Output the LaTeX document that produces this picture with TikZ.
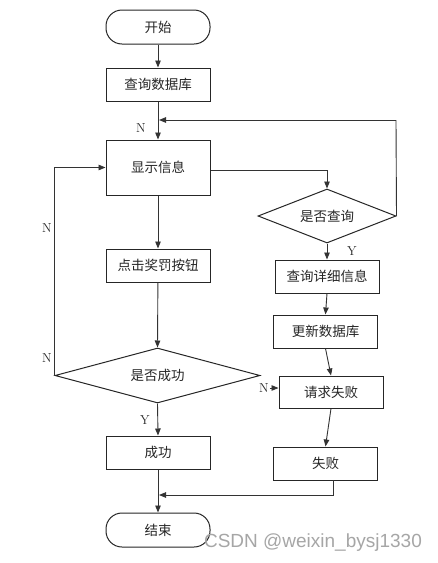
\documentclass[tikz,border=0pt]{standalone}
\usepackage{fontspec}
\newfontfamily\cjk{Noto Sans CJK SC}
\usetikzlibrary{shapes.geometric,arrows.meta}
\begin{document}
\begin{tikzpicture}[x=1pt,y=-1pt,
  box/.style={draw=black!85,line width=1pt,rectangle,inner sep=0pt,minimum width=104pt,minimum height=33pt,font=\cjk\fontsize{13.5}{15}\selectfont,text=black!85},
  term/.style={box,rounded corners=16pt,minimum height=34pt},
  dec/.style={draw=black!85,line width=1pt,diamond,inner sep=0pt,font=\cjk\fontsize{13.5}{15}\selectfont,text=black!85},
  lab/.style={font=\fontsize{13}{14}\selectfont,inner sep=1pt,text=black!85},
  arr/.style={draw=black!80,line width=0.9pt,-{Triangle[length=7pt,width=5.5pt]}},
  ln/.style={draw=black!80,line width=0.9pt}]
\useasboundingbox (0,0) rectangle (437,563);
\fill[white] (0,0) rectangle (437,563);
\node[term] (start) at (158,27) {开始};
\node[box] (db) at (158,84.5) {查询数据库};
\node[box,minimum height=55pt] (show) at (158,167.5) {显示信息};
\node[box] (click) at (158,265.5) {点击奖罚按钮};
\node[dec,minimum width=205pt,minimum height=55pt,shape aspect=3.7] (succ) at (157.5,375.5) {是否成功};
\node[box] (ok) at (158,452.5) {成功};
\node[term] (end) at (158,530) {结束};
\node[dec,minimum width=138pt,minimum height=54pt,shape aspect=2.55] (q) at (327,216) {是否查询};
\node[box] (detail) at (327,276.5) {查询详细信息};
\node[box] (update) at (325.5,331.5) {更新数据库};
\node[box,minimum height=32pt] (req) at (331,392) {请求失败};
\node[box] (fail) at (325.5,463.5) {失败};
\coordinate (loopend) at (159,120);
\coordinate (loopcorner) at (396,120);
\coordinate (mergeend) at (159,495);
\coordinate (failout) at (333,480);
\node[lab] (n1) at (141,128) {N};
\node[lab] (n2) at (47,228) {N};
\node[lab] (n3) at (47,358) {N};
\node[lab] (n4) at (264,388) {N};
\node[lab] (y2) at (145,420) {Y};
\draw[arr] (start) -- (db);
\draw[arr] (db) -- (show);
\draw[arr] (show.east |- 0,170) -| (q.north);
\draw[ln] (q.east) -- (loopcorner);
\draw[arr] (loopcorner) -- (loopend);
\draw[arr] (q.south) -- (q.south |- detail.north);
\node[lab,fill=white] (y1) at (352,251) {Y};
\draw[arr] (detail.south) -- (update.north);
\draw[arr] (update.south) -- (req.north);
\draw[arr] (req.south) -- (fail.north);
\draw[arr] (failout) |- (mergeend);
\draw[arr] (show) -- (click);
\draw[arr] (click) -- (succ.north);
\draw[arr] (succ.west) |- (show.west);
\draw[arr] (n4.east) -- (req.west |- n4.east);
\draw[arr] (succ.south) -- (ok.north);
\draw[arr] (ok) -- (end);
\node[font=\fontspec{Liberation Sans}\fontsize{19}{21}\selectfont,text=black!35] (wm) at (313,543) {CSDN @weixin\_bysj1330};
\end{tikzpicture}
\end{document}
